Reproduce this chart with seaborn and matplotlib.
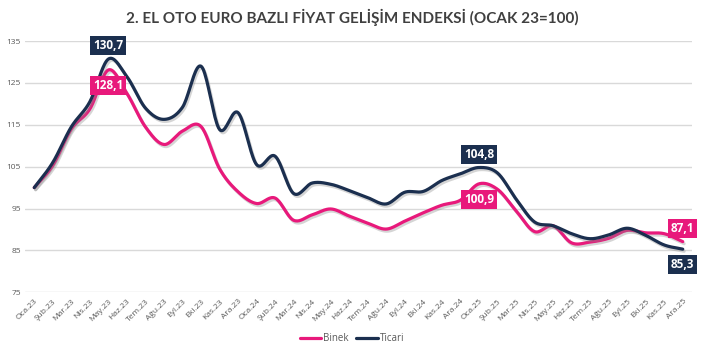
import numpy as np
import pandas as pd
import matplotlib

matplotlib.use('Agg')
import matplotlib.pyplot as plt
import matplotlib.patheffects as pe
from matplotlib.lines import Line2D
import seaborn as sns

# Month labels (Oca.23 .. Ara.25)
months = ['Oca', 'Şub', 'Mar', 'Nis', 'May', 'Haz', 'Tem', 'Ağu', 'Eyl', 'Eki', 'Kas', 'Ara']
years = ['23', '24', '25']
labels = [f"{m}.{y}" for y in years for m in months]

binek = [100.0, 105.3, 114.0, 118.8, 128.1, 122.5, 114.5, 110.3, 113.5, 114.6, 104.5, 99.0,
         96.2, 97.5, 92.2, 93.5, 94.9, 93.2, 91.5, 90.1, 92.0, 94.0, 95.8, 97.0,
         100.9, 99.6, 94.5, 89.5, 90.9, 86.8, 87.0, 87.9, 89.8, 89.2, 89.0, 87.1]
ticari = [100.0, 106.0, 114.5, 120.5, 130.7, 126.5, 119.0, 116.3, 119.2, 129.0, 113.9, 117.9,
          105.5, 107.5, 98.6, 101.1, 100.8, 99.3, 97.6, 96.1, 98.9, 99.1, 101.7, 103.3,
          104.8, 103.5, 97.3, 91.8, 90.9, 89.0, 87.8, 88.7, 90.3, 88.6, 86.3, 85.3]

# labelled points: (series, index, above?)
callouts = [('Ticari', 4, True), ('Binek', 4, False),
            ('Ticari', 24, True), ('Binek', 24, False),
            ('Binek', 35, True), ('Ticari', 35, False)]

PINK = '#E8197B'
NAVY = '#1B2F4F'
palette = {'Binek': PINK, 'Ticari': NAVY}


def smooth(values, n=20):
    """Catmull-Rom spline through the points, like Excel smoothed lines."""
    y = np.asarray(values, dtype=float)
    p = np.concatenate([[2 * y[0] - y[1]], y, [2 * y[-1] - y[-2]]])
    xs, ys = [], []
    for i in range(len(y) - 1):
        p0, p1, p2, p3 = p[i], p[i + 1], p[i + 2], p[i + 3]
        t = np.linspace(0, 1, n, endpoint=False)
        seg = 0.5 * ((2 * p1) + (-p0 + p2) * t + (2 * p0 - 5 * p1 + 4 * p2 - p3) * t ** 2
                     + (-p0 + 3 * p1 - 3 * p2 + p3) * t ** 3)
        xs.extend(i + t)
        ys.extend(seg)
    xs.append(len(y) - 1)
    ys.append(y[-1])
    return np.array(xs), np.array(ys)


frames = []
for name, vals in [('Binek', binek), ('Ticari', ticari)]:
    sx, sy = smooth(vals)
    frames.append(pd.DataFrame({'x': sx, 'value': sy, 'series': name}))
df = pd.concat(frames, ignore_index=True)

sns.set_theme(style='white')
plt.rcParams['font.family'] = ['Open Sans', 'DejaVu Sans']

fig = plt.figure(figsize=(7.04, 3.54), dpi=100)
ax = fig.add_axes([25 / 704, 0.1743, 667 / 704, 0.7097])

sns.lineplot(data=df, x='x', y='value', hue='series', palette=palette,
             sort=False, estimator=None, linewidth=2.3, ax=ax, legend=False)
for line in ax.get_lines():
    line.set_path_effects([pe.SimpleLineShadow(offset=(1, -1.5), shadow_color='#888888', alpha=0.35),
                           pe.Normal()])
    line.set_solid_capstyle('round')

ax.set_xlim(-0.5, 35.5)
ax.set_ylim(75, 135)
ax.set_yticks(range(75, 136, 10))
ax.set_xticks(range(len(labels)))
ax.set_xticklabels(labels, rotation=45, ha='right', rotation_mode='anchor')
ax.tick_params(axis='x', labelsize=6, colors='#595959', pad=4, length=0)
ax.tick_params(axis='y', labelsize=6, colors='#595959', pad=3, length=0)
ax.set_xlabel('')
ax.set_ylabel('')
ax.grid(axis='y', color='#D9D9D9', linewidth=1)
ax.set_axisbelow(True)
for s in ax.spines.values():
    s.set_visible(False)

data = {'Binek': binek, 'Ticari': ticari}
for name, idx, above in callouts:
    v = data[name][idx]
    ax.annotate(f"{v:.1f}".replace('.', ','), xy=(idx, v),
                xytext=(0, 9.5 if above else -11), textcoords='offset points',
                ha='center', va='center', color='white', fontsize=8.5, fontweight='bold',
                bbox=dict(boxstyle='square,pad=0.25', fc=palette[name], ec='none'),
                zorder=5)

fig.suptitle('2. EL OTO EURO BAZLI FİYAT GELİŞİM ENDEKSİ (OCAK 23=100)',
             x=0.5, y=0.975, fontsize=11, fontweight='bold', color='#404040',
             family=['Lato', 'DejaVu Sans'])

handles = [Line2D([0], [0], color=PINK, lw=2.3), Line2D([0], [0], color=NAVY, lw=2.3)]
fig.legend(handles, ['Binek', 'Ticari'], loc='center', bbox_to_anchor=(0.5, 0.043),
           ncol=2, frameon=False, fontsize=7, labelcolor='#595959',
           handlelength=2.2, handletextpad=0.2, columnspacing=0.8)

fig.savefig('out.png', dpi=100)
